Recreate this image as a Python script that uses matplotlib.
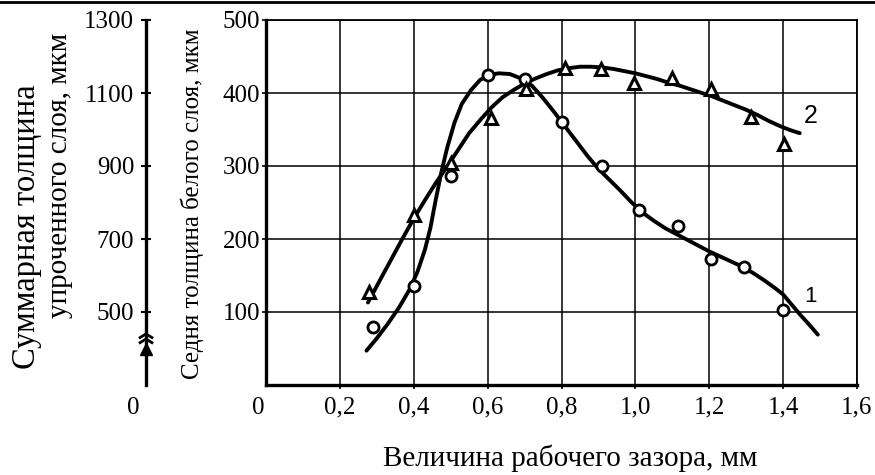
import matplotlib
matplotlib.use("Agg")
import matplotlib.pyplot as plt
from matplotlib.transforms import blended_transform_factory
from matplotlib.lines import Line2D

plt.rcParams['font.family'] = ['Liberation Serif', 'DejaVu Serif']

# ---- data ----
x_ticks = [0.2, 0.4, 0.6, 0.8, 1.0, 1.2, 1.4, 1.6]
x_tick_labels = ["0,2", "0,4", "0,6", "0,8", "1,0", "1,2", "1,4", "1,6"]
y_ticks = [100, 200, 300, 400, 500]
y_tick_labels = ["100", "200", "300", "400", "500"]
sec_ticks = [500, 700, 900, 1100, 1300]
sec_tick_labels = ["500", "700", "900", "1100", "1300"]

# curve 1 (circles): white layer thickness
pts1_x = [0.29, 0.40, 0.50, 0.60, 0.70, 0.80, 0.91, 1.01, 1.115, 1.205, 1.295, 1.40]
pts1_y = [80, 136, 286, 425, 419, 360, 300, 240, 218, 173, 162, 103]
# curve 2 (triangles): total hardened layer thickness
pts2_x = [0.28, 0.40, 0.50, 0.61, 0.705, 0.81, 0.907, 0.996, 1.10, 1.205, 1.314, 1.403]
pts2_y = [127, 233, 304, 366, 405, 434, 433, 414, 420, 406, 367, 330]

# hand-drawn fitted curves
line1_x = [0.272, 0.30, 0.33, 0.36, 0.39, 0.41, 0.43, 0.445, 0.46, 0.475, 0.49, 0.51,
           0.53, 0.555, 0.58, 0.607, 0.63, 0.66, 0.69, 0.72, 0.75, 0.78, 0.81, 0.84,
           0.87, 0.90, 0.93, 0.96, 0.99, 1.02, 1.05, 1.08, 1.11, 1.14, 1.17, 1.20,
           1.23, 1.26, 1.29, 1.32, 1.35, 1.38, 1.40, 1.42, 1.445, 1.47, 1.494]
line1_y = [47, 64, 84, 106, 132, 155, 185, 215, 255, 292, 324, 359,
           385, 404, 418, 425, 427, 426, 420, 410, 393, 374, 354, 334,
           314, 296, 281, 266, 250, 236, 225, 215, 207, 199, 191, 183,
           176, 169, 162, 153, 143, 132, 124, 112, 97, 83, 69]
line2_x = [0.276, 0.31, 0.34, 0.37, 0.40, 0.43, 0.46, 0.49, 0.52, 0.55, 0.58, 0.61,
           0.64, 0.67, 0.70, 0.73, 0.76, 0.79, 0.82, 0.85, 0.88, 0.91, 0.94, 0.97,
           1.00, 1.03, 1.06, 1.09, 1.12, 1.15, 1.18, 1.21, 1.24, 1.27, 1.30, 1.33,
           1.36, 1.39, 1.42, 1.445]
line2_y = [113, 145, 173, 201, 228, 253, 277, 299, 322, 345, 363, 380,
           394, 404, 413, 420, 426, 431, 434, 436, 436, 435, 433, 430,
           427, 423, 419, 414, 410, 405, 400, 395, 389, 383, 377, 370,
           362, 355, 349, 345]

W, H = 875, 475
fig = plt.figure(figsize=(W / 100, H / 100), dpi=100)
ax = fig.add_axes([266 / W, 90 / H, 591 / W, 365 / H])
ax.set_xlim(0, 1.6)
ax.set_ylim(0, 500)

ax.set_xticks(x_ticks)
ax.set_xticklabels(x_tick_labels)
ax.set_yticks(y_ticks)
ax.set_yticklabels(y_tick_labels)
ax.grid(True, color='black', lw=1.1)
ax.tick_params(axis='both', labelsize=18, direction='out', length=3, width=1.2, color='black')
ax.tick_params(axis='x', pad=5)
ax.tick_params(axis='y', pad=1)
for s in ['left', 'bottom']:
    ax.spines[s].set_linewidth(2.4)
for s in ['top', 'right']:
    ax.spines[s].set_linewidth(1.3)

ax.plot(line1_x, line1_y, color='black', lw=2.8, solid_capstyle='round',
        solid_joinstyle='round', zorder=3)
ax.plot(line2_x, line2_y, color='black', lw=2.8, solid_capstyle='round',
        solid_joinstyle='round', zorder=3)
ax.plot(pts1_x, pts1_y, linestyle='none', marker='o', ms=8, mfc='white', mec='black', mew=2, zorder=4)
ax.plot(pts2_x, pts2_y, linestyle='none', marker='^', ms=8, mfc='white', mec='black', mew=2.2, zorder=4)

ax.text(1.455, 368, "2", fontsize=18, family=['Liberation Sans Narrow', 'Liberation Sans'],
        ha='left', va='center')
ax.text(1.458, 121, "1", fontsize=16, family=['Liberation Sans Narrow', 'Liberation Sans'],
        ha='left', va='center')

# secondary (left) axis
sec_pos = -0.203
sec = ax.secondary_yaxis(sec_pos, functions=(lambda y: 2 * y + 300, lambda v: (v - 300) / 2))
sec.set_yticks(sec_ticks)
sec.set_yticklabels(sec_tick_labels)
sec.spines['left'].set_linewidth(2.4)
sec.tick_params(axis='y', labelsize=18, direction='inout', length=7, width=1.5, pad=5)

tr = blended_transform_factory(ax.transAxes, ax.transData)
for yb in [70, 63]:
    ax.add_line(Line2D([sec_pos - 0.01, sec_pos, sec_pos + 0.01], [yb - 5, yb, yb - 5],
                       transform=tr, color='black', lw=2, clip_on=False))
ax.plot([sec_pos], [50], marker='^', ms=8, color='black', transform=tr, clip_on=False)

# zeros at the origin
fig.text(133 / W, 1 - 408 / H, "0", fontsize=18, ha='center', va='center')
fig.text(258 / W, 1 - 408 / H, "0", fontsize=18, ha='center', va='center')

# axis titles
fig.text(27 / W, 1 - 227 / H, "Суммарная толщина", fontsize=23.5, rotation=90, ha='center', va='center')
fig.text(60 / W, 1 - 175 / H, "упроченного слоя, мкм", fontsize=21, rotation=90, ha='center', va='center')
fig.text(192 / W, 1 - 204 / H, "Седня толщина белого слоя, мкм", fontsize=18, rotation=90, ha='center', va='center')
fig.text(570 / W, 1 - 458 / H, "Величина рабочего зазора, мм", fontsize=21, ha='center', va='center')

# rule at the top of the page
fig.add_artist(Line2D([0, 1], [1 - 2 / H, 1 - 2 / H], transform=fig.transFigure, color='black', lw=2))

fig.savefig("out.png", dpi=100)
